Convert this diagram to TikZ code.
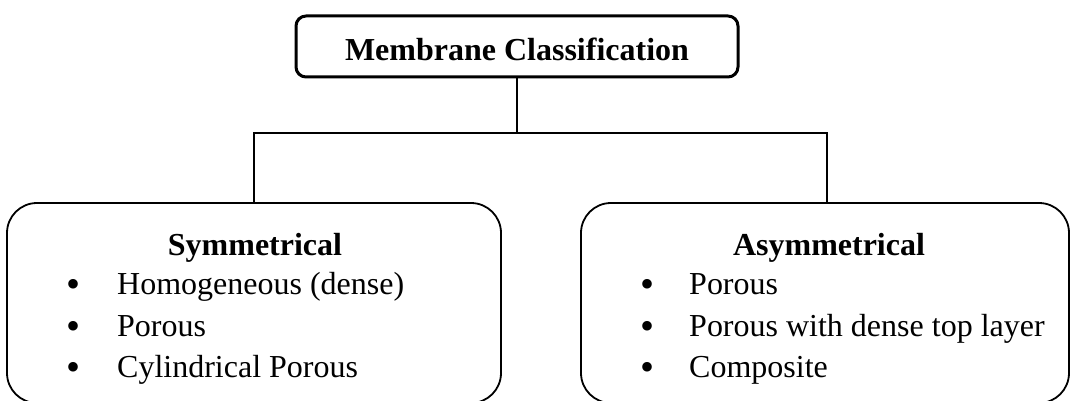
\documentclass[tikz,border=0pt]{standalone}
\usepackage{fontspec}
\setmainfont{Liberation Serif}
\begin{document}
\begin{tikzpicture}[x=1pt,y=-1pt,
  topbox/.style={draw, line width=3pt, rounded corners=10pt, minimum width=442pt, minimum height=61pt, inner sep=0pt},
  catbox/.style={draw, line width=1.8pt, rounded corners=30pt, minimum height=200pt, inner sep=0pt},
  conn/.style={line width=1.8pt},
  ttl/.style={font=\fontsize{32}{38}\selectfont\bfseries, anchor=base, inner sep=0pt},
  itm/.style={font=\fontsize{32}{38}\selectfont, anchor=base west, inner sep=0pt},
  bul/.style={font=\fontsize{40}{44}\selectfont, anchor=base, inner sep=0pt}]
\useasboundingbox (0,0) rectangle (1071,401);
\node[topbox] (top) at (517,46.5) {};
\node[ttl] (toptext) at (517,61) {Membrane Classification};
\node[catbox, minimum width=494pt] (left) at (254,303) {};
\node[catbox, minimum width=488pt] (right) at (825,303) {};
\coordinate (rtop) at (827,203);
\coordinate (junc) at (517,133);
\draw[conn] (top.south) -- (junc);
\draw[conn] (junc) -| (left.north);
\draw[conn] (junc) -| (rtop);
% left contents
\node[ttl] (symt) at (255,255) {Symmetrical};
\node[bul] (lb1) at (74,297) {\textbullet};
\node[itm] (l1) at (117,294) {Homogeneous (dense)};
\node[bul] (lb2) at (74,339) {\textbullet};
\node[itm] (l2) at (117,336) {Porous};
\node[bul] (lb3) at (74,380) {\textbullet};
\node[itm] (l3) at (117,377) {Cylindrical Porous};
% right contents
\node[ttl] (asym) at (829,255) {Asymmetrical};
\node[bul] (rb1) at (647,297) {\textbullet};
\node[itm] (r1) at (689,294) {Porous};
\node[bul] (rb2) at (647,339) {\textbullet};
\node[itm] (r2) at (689,336) {Porous with dense top layer};
\node[bul] (rb3) at (647,380) {\textbullet};
\node[itm] (r3) at (689,377) {Composite};
\end{tikzpicture}
\end{document}
